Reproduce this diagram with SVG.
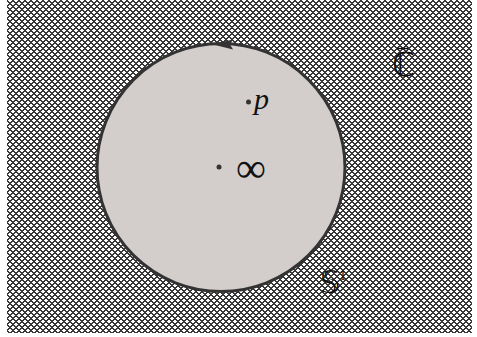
<svg xmlns="http://www.w3.org/2000/svg" width="477" height="337" viewBox="0 0 477 337">
<style>
.lbl{font-family:"Liberation Serif","DejaVu Serif",serif;fill:#111}
.bb{font-family:"DejaVu Sans",sans-serif;fill:#111}
.dot{fill:#333}
</style>
<defs>
<pattern id="hatch" width="6" height="6" patternUnits="userSpaceOnUse">
<rect width="6" height="6" fill="#fff"/>
<path shape-rendering="crispEdges" fill="#383838" d="M0,0h2v1h-2z M0,1h3v1h-3z M5,1h1v1h-1z M2,2h4v1h-4z M3,3h2v1h-2z M2,4h4v1h-4z M0,5h3v1h-3z M5,5h1v1h-1z"/>
</pattern>
</defs>
<g id="plane">
<rect x="7" y="0" width="465" height="333" fill="url(#hatch)"/>
</g>
<g id="disk">
<circle cx="221" cy="167.5" r="124" fill="#d3cdcb" stroke="#333" stroke-width="3"/>
</g>
<g id="connectors">
<polygon points="212,44.3 233,39.5 230,44.6 233,49.5" fill="#333"/>
</g>
<g id="p">
<circle class="dot" cx="248.5" cy="102" r="2.5"/>
<text class="lbl" x="254" y="109" font-size="30" font-style="italic">p</text>
</g>
<g id="inf">
<circle class="dot" cx="219" cy="167" r="2.5"/>
<text class="lbl" x="236" y="182" font-size="42">∞</text>
</g>
<g id="Cbar">
<text class="bb" x="392" y="76" font-size="33">ℂ</text>
<line x1="397" y1="48.5" x2="408" y2="48.5" stroke="#111" stroke-width="1.4"/>
</g>
<g id="S1">
<text class="bb" x="320" y="293" font-size="32">𝕊</text>
<text class="lbl" x="339" y="280" font-size="15">1</text>
</g>
</svg>
